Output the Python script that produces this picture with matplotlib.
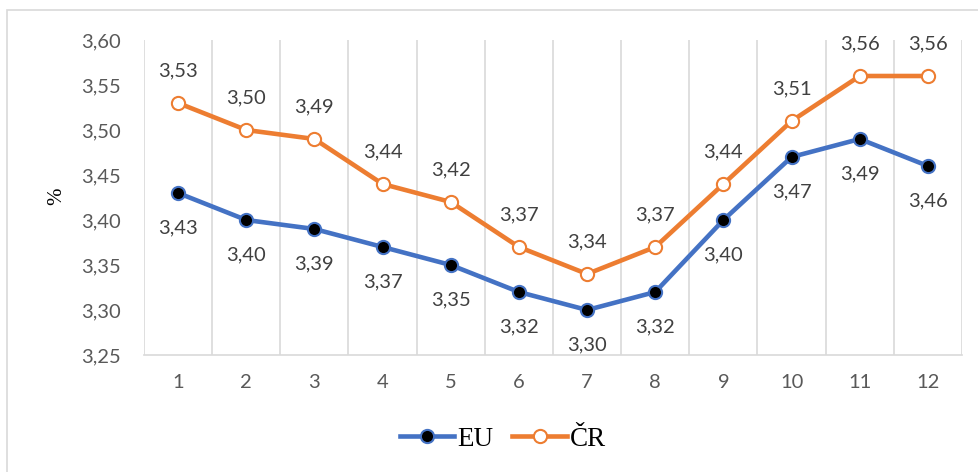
import matplotlib
matplotlib.use("Agg")
import matplotlib.pyplot as plt
from matplotlib.patches import Rectangle
from matplotlib.lines import Line2D

months = [1, 2, 3, 4, 5, 6, 7, 8, 9, 10, 11, 12]
eu = [3.43, 3.40, 3.39, 3.37, 3.35, 3.32, 3.30, 3.32, 3.40, 3.47, 3.49, 3.46]
cr = [3.53, 3.50, 3.49, 3.44, 3.42, 3.37, 3.34, 3.37, 3.44, 3.51, 3.56, 3.56]
yticks = [3.25, 3.30, 3.35, 3.40, 3.45, 3.50, 3.55, 3.60]

BLUE = "#4472C4"
ORANGE = "#ED7D31"
TICK = "#595959"
LABEL = "#404040"
GRID = "#D9D9D9"
sans = ["Lato", "DejaVu Sans"]
serif = ["Liberation Serif", "DejaVu Serif"]
FS = 14.5

fig = plt.figure(figsize=(9.79, 4.72), dpi=100)
W, H = 979, 472
ax = fig.add_axes([144 / W, 1 - 355 / H, (962 - 144) / W, (355 - 40) / H])

# outer chart frame
fig.patches.append(Rectangle((7 / W, -0.1), 1.2, 1 - 10 / H + 0.1,
                             transform=fig.transFigure, fill=False,
                             edgecolor=GRID, linewidth=1.2))

ax.plot(months, eu, color=BLUE, linewidth=3.3, marker="o", markersize=9.5,
        markerfacecolor="black", markeredgecolor=BLUE, markeredgewidth=1.5,
        solid_capstyle="round", zorder=3)
ax.plot(months, cr, color=ORANGE, linewidth=3.3, marker="o", markersize=9.5,
        markerfacecolor="white", markeredgecolor=ORANGE, markeredgewidth=1.5,
        solid_capstyle="round", zorder=3)

def fmt(v):
    return f"{v:.2f}".replace(".", ",")

for x, v in zip(months, eu):
    ax.annotate(fmt(v), (x, v), xytext=(0, -25), textcoords="offset points",
                ha="center", va="center", fontsize=FS, family=sans, color=LABEL)
for x, v in zip(months, cr):
    ax.annotate(fmt(v), (x, v), xytext=(0, 23), textcoords="offset points",
                ha="center", va="center", fontsize=FS, family=sans, color=LABEL)

ax.set_xlim(0.5, 12.5)
ax.set_ylim(3.25, 3.60)
ax.set_yticks(yticks)
ax.set_yticklabels([fmt(v) for v in yticks], family=sans, fontsize=FS, color=TICK)
ax.set_xticks(months)
ax.set_xticklabels([str(m) for m in months], family=sans, fontsize=FS, color=TICK)
ax.tick_params(axis="both", length=0)
ax.tick_params(axis="y", pad=17)
ax.tick_params(axis="x", pad=14)

# vertical separators between categories
for b in [m + 0.5 for m in [0] + months]:
    ax.axvline(b, color=GRID, linewidth=1.2, zorder=1)
for side in ["top", "right", "left"]:
    ax.spines[side].set_visible(False)
ax.spines["bottom"].set_color(GRID)
ax.spines["bottom"].set_linewidth(1.2)

fig.text(57 / W, 1 - 196 / H, "%", rotation=90, ha="center", va="center",
         fontsize=15, family=serif, color="black")

handles = [
    Line2D([], [], color=BLUE, linewidth=3.3, marker="o", markersize=9.5,
           markerfacecolor="black", markeredgecolor=BLUE, markeredgewidth=1.5),
    Line2D([], [], color=ORANGE, linewidth=3.3, marker="o", markersize=9.5,
           markerfacecolor="white", markeredgecolor=ORANGE, markeredgewidth=1.5),
]
fig.legend(handles, ["EU", "ČR"], loc="center", bbox_to_anchor=(503 / W, 1 - 439 / H),
           ncol=2, frameon=False, prop={"family": serif, "size": 19.5},
           handlelength=2.0, handletextpad=0.12, columnspacing=0.7)

fig.savefig("out.png", dpi=100)
